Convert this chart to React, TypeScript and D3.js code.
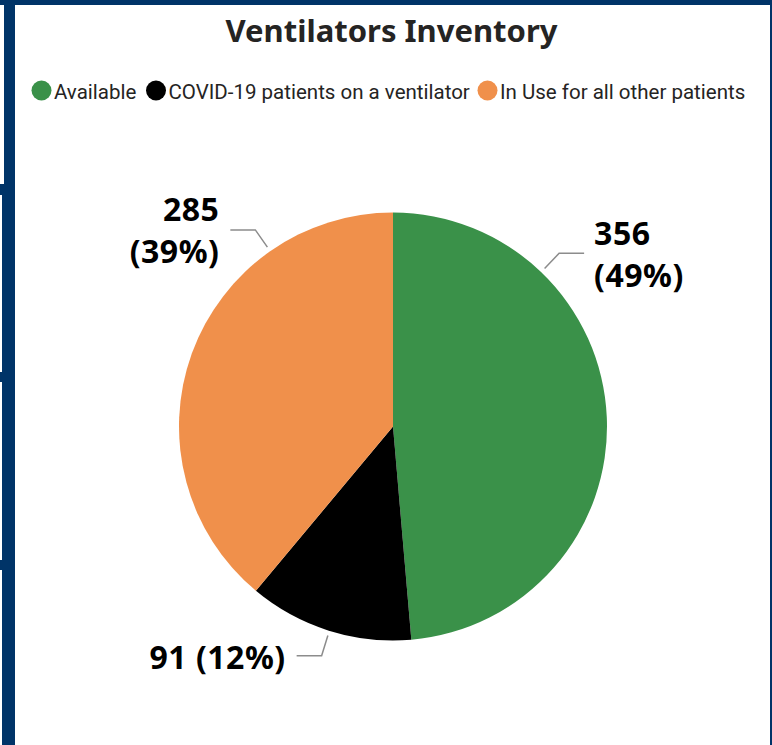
import React from "react";
import * as d3 from "d3";

const categories = ["Available", "COVID-19 patients on a ventilator", "In Use for all other patients"];
const values = [356, 91, 285];
const percentLabels = ["49%", "12%", "39%"];
const colors = ["#3A9149", "#000000", "#F0904B"];
const title = "Ventilators Inventory";

// layout constants
const W = 772;
const H = 745;
const CX = 393;
const CY = 426.5;
const R = 214;
const NAVY = "#003468";
const labelAngleDeg = [43.8, 197.3, 325];
const labelTwoLines = [true, false, true];
const legendX = [41.5, 156, 487.5];
const legendY = 90.5;

export default function App() {
  const pie = d3
    .pie<number>()
    .sort(null)
    .value((d) => d)
    .startAngle(0)
    .endAngle(2 * Math.PI);
  const arcs = pie(values);
  const arcGen = d3.arc<d3.PieArcDatum<number>>().innerRadius(0).outerRadius(R);

  const labelFont = "'Noto Sans', 'Open Sans', sans-serif";

  return (
    <div style={{ position: "absolute", left: 0, top: 0, width: W, height: H }}>
      <svg width={W} height={H} style={{ display: "block" }}>
        <rect x={0} y={0} width={W} height={H} fill="#ffffff" />
        {/* frame */}
        <rect x={0} y={0} width={W} height={5} fill={NAVY} />
        <rect x={0} y={0} width={15} height={H} fill={NAVY} />
        <rect x={770} y={0} width={2} height={H} fill={NAVY} />
        <rect x={0} y={5} width={4} height={179} fill="#ffffff" />
        <rect x={0} y={195} width={2} height={177} fill="#ffffff" />
        <rect x={0} y={382} width={2} height={178} fill="#ffffff" />
        <rect x={0} y={570} width={2} height={175} fill="#ffffff" />

        {/* title */}
        <text
          x={391.5}
          y={42}
          textAnchor="middle"
          fontFamily={labelFont}
          fontWeight={700}
          fontSize={31}
          fill="#252423"
        >
          {title}
        </text>

        {/* legend */}
        {categories.map((c, i) => (
          <g key={c}>
            <circle cx={legendX[i]} cy={legendY} r={10} fill={colors[i]} />
            <text
              x={legendX[i] + 12.5}
              y={legendY + 8.5}
              fontFamily="Roboto, sans-serif"
              fontSize={20.5}
              fill="#252423"
            >
              {c}
            </text>
          </g>
        ))}

        {/* pie */}
        <g transform={`translate(${CX},${CY})`}>
          {arcs.map((a, i) => (
            <path key={i} d={arcGen(a) || ""} fill={colors[i]} />
          ))}
          {arcs.map((a, i) => {
            const ang = (labelAngleDeg[i] * Math.PI) / 180;
            const sx = (R + 5) * Math.sin(ang);
            const sy = -(R + 5) * Math.cos(ang);
            const ex = (R + 26) * Math.sin(ang);
            const ey = -(R + 26) * Math.cos(ang);
            const right = Math.sin(ang) > 0;
            const hx = ex + (right ? 25 : -25);
            const tx = hx + (right ? 10 : -11);
            const anchor = right ? "start" : "end";
            const v = String(values[i]);
            const p = `(${percentLabels[i]})`;
            return (
              <g key={`l${i}`}>
                <polyline
                  points={`${sx},${sy} ${ex},${ey} ${hx},${ey}`}
                  fill="none"
                  stroke="#8c8c8c"
                  strokeWidth={1.5}
                />
                {labelTwoLines[i] ? (
                  <text
                    textAnchor={anchor}
                    fontFamily={labelFont}
                    fontWeight={700}
                    fontSize={32}
                    letterSpacing={0.5}
                    fill="#000000"
                  >
                    <tspan x={tx} y={ey - 8.5}>
                      {v}
                    </tspan>
                    <tspan x={tx} y={ey + 33.5}>
                      {p}
                    </tspan>
                  </text>
                ) : (
                  <text
                    x={tx}
                    y={ey + 13}
                    textAnchor={anchor}
                    fontFamily={labelFont}
                    fontWeight={700}
                    fontSize={32}
                    letterSpacing={0.5}
                    fill="#000000"
                  >
                    {`${v} ${p}`}
                  </text>
                )}
              </g>
            );
          })}
        </g>
      </svg>
    </div>
  );
}
